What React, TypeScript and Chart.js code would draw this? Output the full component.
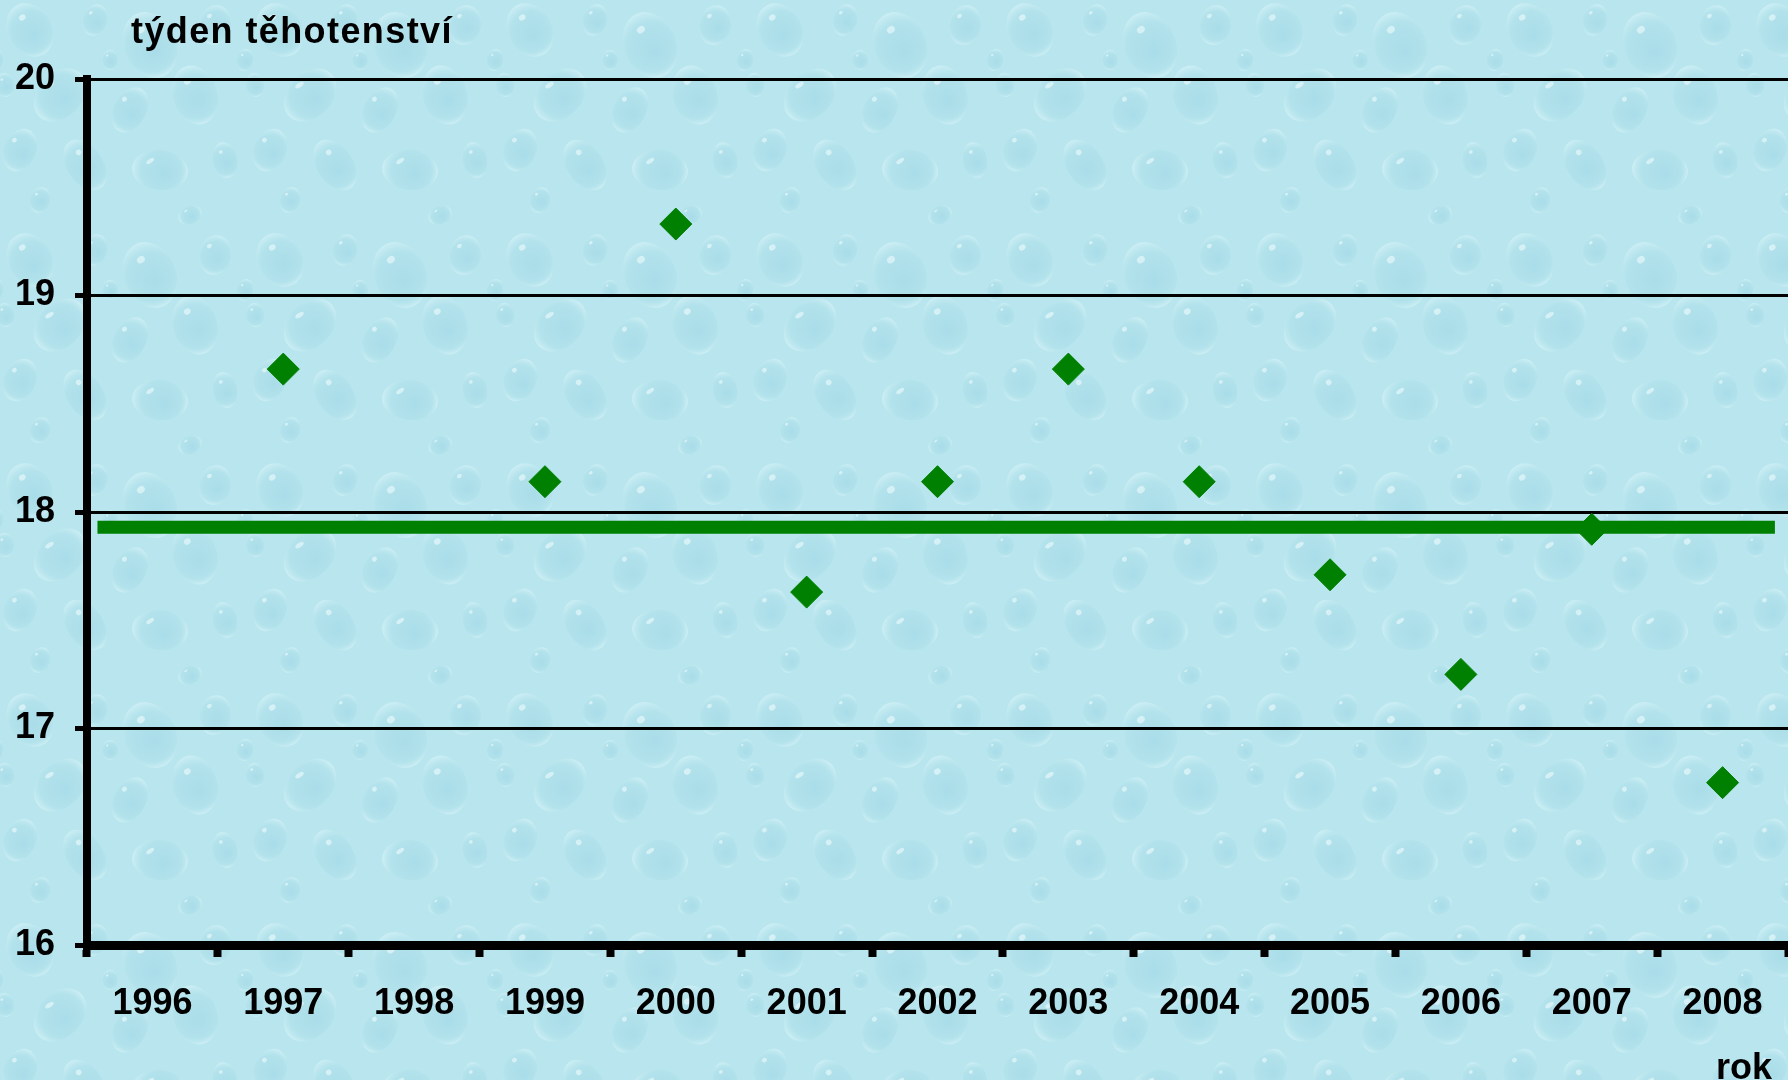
import React, { useEffect, useRef } from 'react';
import { Chart, registerables } from 'chart.js';

Chart.register(...registerables);

// ---- data ----
const years = ['1996', '1997', '1998', '1999', '2000', '2001', '2002', '2003', '2004', '2005', '2006', '2007', '2008'];
const weeks: (number | null)[] = [null, 18.66, null, 18.14, 19.33, 17.63, 18.14, 18.66, 18.14, 17.71, 17.25, 17.92, 16.75];
const meanWeek = 17.93;
const meanSpan = [0.08, 12.9];
const yMin = 16;
const yMax = 20;
const yTitle = 'týden těhotenství';
const xTitle = 'rok';

// background droplet tile (decoration only)
const drops: [number, number, number, number, number][] = [
  [30, 30, 22, 28, -0.5], [95, 20, 12, 16, 0.3], [150, 45, 26, 34, -0.4], [215, 25, 16, 20, 0.2],
  [60, 95, 30, 22, -0.8], [130, 110, 16, 24, 0.5], [195, 95, 22, 30, -0.3], [20, 150, 16, 22, 0.4],
  [85, 165, 18, 28, -0.6], [160, 170, 28, 20, 0.1], [225, 160, 12, 18, -0.2], [110, 60, 8, 10, 0],
  [40, 200, 10, 13, 0.3], [190, 215, 12, 9, -0.4], [245, 60, 8, 11, 0.2], [5, 85, 9, 12, -0.1],
];

function makePattern(ctx: CanvasRenderingContext2D) {
  const tile = document.createElement('canvas');
  tile.width = 250;
  tile.height = 230;
  const t = tile.getContext('2d')!;
  t.fillStyle = '#b9e6ee';
  t.fillRect(0, 0, tile.width, tile.height);
  for (const [x, y, rx, ry, rot] of drops) {
    for (const dx of [-250, 0, 250]) {
      for (const dy of [-230, 0, 230]) {
        const cx = x + dx;
        const cy = y + dy;
        const g = t.createRadialGradient(cx + rx * 0.2, cy + ry * 0.2, 1, cx, cy, Math.max(rx, ry));
        g.addColorStop(0, 'rgba(150,210,226,0.45)');
        g.addColorStop(0.7, 'rgba(165,218,231,0.35)');
        g.addColorStop(1, 'rgba(222,246,250,0.55)');
        t.fillStyle = g;
        t.beginPath();
        t.ellipse(cx, cy, rx, ry, rot, 0, Math.PI * 2);
        t.fill();
        t.fillStyle = 'rgba(238,251,253,0.6)';
        t.beginPath();
        t.ellipse(cx - rx * 0.35, cy - ry * 0.45, rx * 0.16, ry * 0.1, -0.6, 0, Math.PI * 2);
        t.fill();
      }
    }
  }
  return ctx.createPattern(tile, 'repeat');
}

const font = { family: '"Liberation Sans", Arial, sans-serif', size: 36, weight: 'bold' as const };

export default function App() {
  const ref = useRef<HTMLCanvasElement | null>(null);

  useEffect(() => {
    const canvas = ref.current!;
    const bgPlugin = {
      id: 'bg',
      beforeDraw(chart: any) {
        const c = chart.ctx as CanvasRenderingContext2D;
        c.save();
        c.fillStyle = makePattern(c) || '#b9e6ee';
        c.fillRect(0, 0, chart.width, chart.height);
        c.restore();
      },
    };
    const textPlugin = {
      id: 'texts',
      afterDraw(chart: any) {
        const c = chart.ctx as CanvasRenderingContext2D;
        c.save();
        c.fillStyle = '#000';
        c.font = `bold 36px ${font.family}`;
        (c as any).letterSpacing = '1.4px';
        c.textAlign = 'left';
        c.textBaseline = 'alphabetic';
        c.fillText(yTitle, 131, 43);
        (c as any).letterSpacing = '0px';
        c.textAlign = 'right';
        c.fillText(xTitle, 1772, 1079);
        c.restore();
      },
    };

    const chart = new Chart(canvas, {
      type: 'line',
      data: {
        labels: years,
        datasets: [
          {
            label: 'průměr',
            data: meanSpan.map((x) => ({ x, y: meanWeek })) as any,
            xAxisID: 'xLine',
            borderColor: '#008000',
            backgroundColor: '#008000',
            borderWidth: 13,
            borderCapStyle: 'butt',
            pointRadius: 0,
            order: 2,
          },
          {
            label: 'týden',
            data: weeks,
            xAxisID: 'x',
            showLine: false,
            pointStyle: 'rectRot',
            pointRadius: 16,
            pointBackgroundColor: '#008000',
            pointBorderColor: '#008000',
            pointBorderWidth: 1,
            order: 1,
          },
        ],
      },
      options: {
        animation: false,
        responsive: false,
        maintainAspectRatio: false,
        layout: { autoPadding: false, padding: { top: 79, right: -3, left: 0, bottom: 0 } },
        plugins: { legend: { display: false }, tooltip: { enabled: false } },
        scales: {
          x: {
            type: 'category',
            offset: true,
            grid: { offset: true, drawOnChartArea: false, tickLength: 12, tickWidth: 8, tickColor: '#000' },
            border: { display: true, color: '#000', width: 9 },
            ticks: { font, color: '#000', padding: 25, maxRotation: 0, autoSkip: false },
            afterFit: (s: any) => {
              s.height = 135;
              s.paddingLeft = 0;
              s.paddingRight = 0;
            },
          },
          xLine: {
            type: 'linear',
            min: 0,
            max: 13,
            display: false,
            afterFit: (s: any) => {
              s.paddingLeft = 0;
              s.paddingRight = 0;
            },
          },
          y: {
            min: yMin,
            max: yMax,
            ticks: { stepSize: 1, font, color: '#000', padding: 20 },
            grid: { color: '#000', lineWidth: 3, tickLength: 12, tickWidth: 5, tickColor: '#000' },
            border: { display: true, color: '#000', width: 8 },
            afterFit: (s: any) => {
              s.width = 87;
              s.paddingTop = 0;
              s.paddingBottom = 0;
            },
          },
        },
      },
      plugins: [bgPlugin, textPlugin],
    });
    return () => chart.destroy();
  }, []);

  return (
    <div style={{ position: 'absolute', left: 0, top: 0, width: 1788, height: 1080 }}>
      <canvas ref={ref} width={1788} height={1080} style={{ width: 1788, height: 1080, display: 'block' }} />
    </div>
  );
}
